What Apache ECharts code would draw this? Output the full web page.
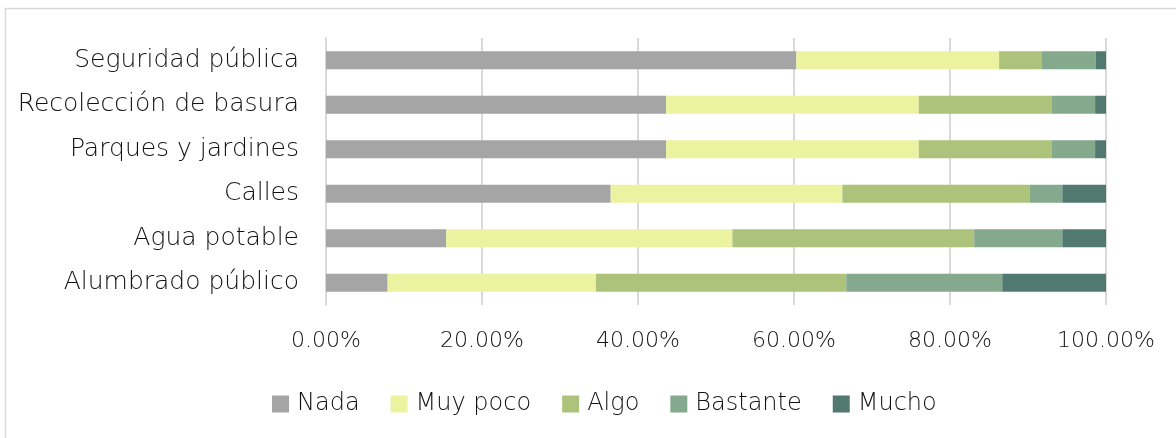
<!DOCTYPE html>
<html>
<head>
<meta charset="utf-8">
<script src="https://cdn.jsdelivr.net/npm/echarts@6/dist/echarts.min.js"></script>
<style>
html,body{margin:0;padding:0;background:#fff;}
#c{width:1176px;height:438px;}
</style>
</head>
<body>
<div id="c"></div>
<script>
const categories = ['Seguridad pública','Recolección de basura','Parques y jardines','Calles','Agua potable','Alumbrado público'];
const seriesNames = ['Nada','Muy poco','Algo','Bastante','Mucho'];
const nada     = [60.3, 43.6, 43.6, 36.5, 15.4, 7.9];
const muyPoco  = [26.0, 32.4, 32.4, 29.7, 36.7, 26.7];
const algo     = [5.5, 17.0, 17.0, 24.0, 31.0, 32.1];
const bastante = [6.9, 5.6, 5.6, 4.2, 11.3, 20.0];
const mucho    = [1.3, 1.4, 1.4, 5.6, 5.6, 13.3];
const tickMin = 0, tickMax = 100, tickStep = 20;

const colors = ['#a5a5a5','#ebf2a0','#adc27a','#84a98c','#52796f'];
const values = [nada, muyPoco, algo, bastante, mucho];
const FONT = '"DejaVu Sans"';

const chart = echarts.init(document.getElementById('c'), null, {renderer:'canvas'});
chart.setOption({
  animation:false,
  graphic:[{type:'rect', shape:{x:5.5,y:8.5,width:1300,height:600}, style:{fill:'none', stroke:'#d9d9d9', lineWidth:1.5}, silent:true}],
  legend:{
    top:387, left:267, itemWidth:17, itemHeight:17, itemGap:31,
    icon:'rect',
    textStyle:{fontFamily:FONT, fontWeight:200, fontSize:24, color:'#111', padding:[0,0,0,3]},
    data:seriesNames
  },
  grid:{left:326, right:70, top:38, bottom:133, containLabel:false},
  xAxis:{
    type:'value', min:tickMin, max:tickMax, interval:tickStep,
    axisLine:{show:false}, axisTick:{show:false},
    splitLine:{lineStyle:{color:'#d9d9d9', width:2}},
    axisLabel:{margin:25, fontFamily:FONT, fontWeight:200, fontSize:22, color:'#111',
      formatter:v=>v.toFixed(2)+'%'}
  },
  yAxis:{
    type:'category', data:categories, inverse:true,
    axisLine:{lineStyle:{color:'#d9d9d9', width:2}}, axisTick:{show:false},
    axisLabel:{margin:27, fontFamily:FONT, fontWeight:200, fontSize:25, color:'#111'}
  },
  series: seriesNames.map((n,i)=>({
    name:n, type:'bar', stack:'s', barWidth:18,
    itemStyle:{color:colors[i]},
    data:values[i]
  }))
});
</script>
</body>
</html>
